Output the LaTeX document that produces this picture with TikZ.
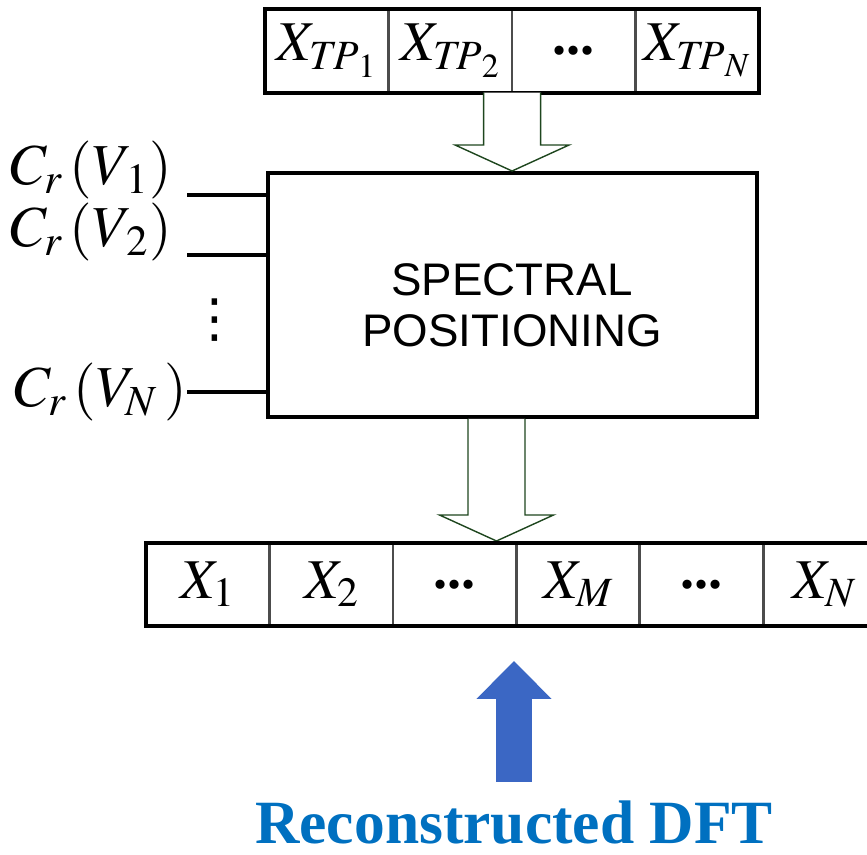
\documentclass[tikz,border=0pt]{standalone}
\usepackage{mathptmx}
\usepackage[no-math]{fontspec}
\setmainfont{Liberation Serif}
\setsansfont{Liberation Sans}
\newfontfamily\symfont{DejaVu Sans}
\definecolor{dftblue}{RGB}{0, 112, 192}
\definecolor{arrowblue}{RGB}{59, 103, 196}
\definecolor{darkgreen}{RGB}{30, 70, 30}
\usetikzlibrary{arrows.meta, calc, positioning}

\tikzset{
  cell/.style={draw=black!70, line width=0.8pt, minimum width=2.44cm, minimum height=1.64cm, inner sep=0pt, font=\fontsize{32}{36}\selectfont},
  frame/.style={line width=2.3pt},
  inlabel/.style={font=\fontsize{33}{36}\selectfont, anchor=base east, inner sep=0pt},
  inline/.style={line width=1.9pt},
  hollow/.style={draw=darkgreen, line width=0.8pt, fill=white},
  bigarrow/.style={draw=arrowblue, line width=0.74cm, -{Triangle[length=0.76cm, width=1.46cm]}},
}

% hollow down arrow: #1 start, #2 tip
\newcommand{\hollowarrow}[2]{
  \draw[hollow] ($(#2 |- #1)+(-28.5,0)$) -- ($(#2)+(-28.5,-26)$) -- ($(#2)+(-57,-26)$)
    -- (#2) -- ($(#2)+(57,-26)$) -- ($(#2)+(28.5,-26)$) -- ($(#2 |- #1)+(28.5,0)$);
}

\begin{document}
\begin{tikzpicture}[x=0.02cm, y=-0.02cm]
  \useasboundingbox (0,0) rectangle (867,855);

  % Top table
  \node[cell] (tp1) at (327,51) {$X_{\mathit{TP}_1}$};
  \node[cell, right=0pt of tp1] (tp2) {$X_{\mathit{TP}_2}$};
  \node[cell, right=0pt of tp2] (tpd) {\textbf{...}};
  \node[cell, right=0pt of tpd] (tpN) {$X_{\mathit{TP}_N}$};
  \draw[frame] (tp1.north west) rectangle (tpN.south east);

  % Spectral positioning block
  \node[draw, frame, minimum width=9.78cm, minimum height=4.88cm] (box) at (512.5,295) {};
  \node[font=\sffamily\fontsize{26}{29}\selectfont, align=center] (boxtext) at (512,305) {SPECTRAL\\POSITIONING};
  \hollowarrow{tp2.south east}{tp2.south east |- box.north}

  % Inputs
  \node[inlabel] (cv1) at (172,185) {$C_r\,(V_{\,1})$};
  \node[inlabel] (cv2) at (172,247) {$C_r\,(V_{\,2})$};
  \node[inlabel] (cvN) at (187,407) {$C_r\,(V_N\,)$};
  \node[font=\symfont\fontsize{30}{30}\selectfont, inner sep=0pt] (vd) at (215,320) {⋮};
  \coordinate (in1) at (187,195);
  \coordinate (in2) at (187,255);
  \coordinate (inN) at (187,392);
  \draw[inline] (in1) -- (in1 -| box.west);
  \draw[inline] (in2) -- (in2 -| box.west);
  \draw[inline] (inN) -- (inN -| box.west);

  % Bottom table
  \node[cell] (x1) at (208,584.5) {$X_1$};
  \node[cell, right=0pt of x1] (x2) {$X_2$};
  \node[cell, right=0pt of x2] (xd1) {\textbf{...}};
  \node[cell, right=0pt of xd1] (xM) {$X_M$};
  \node[cell, right=0pt of xM] (xd2) {\textbf{...}};
  \node[cell, right=0pt of xd2] (xN) {$X_N$};
  \coordinate (pin) at (496.5,541);
  \hollowarrow{box.south}{pin}
  \draw[frame] (x1.north west) rectangle (xN.south east);

  % Reconstructed DFT
  \node[font=\bfseries\fontsize{35}{40}\selectfont, text=dftblue, anchor=base] (dft) at (514,843) {Reconstructed DFT};
  \coordinate (uptip) at (514,661);
  \draw[bigarrow, shorten <=0.25cm] (dft.north) -- (uptip);
\end{tikzpicture}
\end{document}
